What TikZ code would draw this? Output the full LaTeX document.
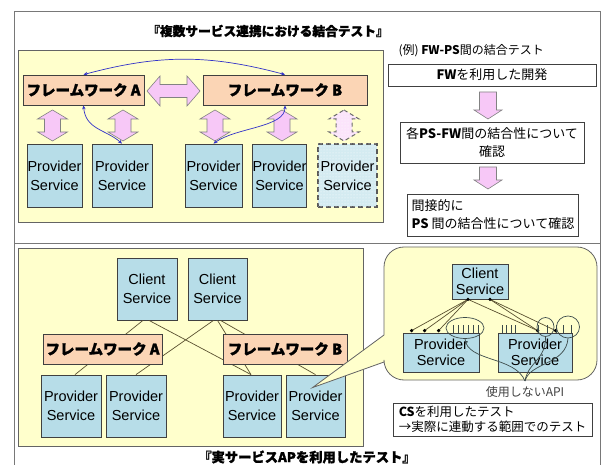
\documentclass[tikz,border=0pt]{standalone}
\usepackage{fontspec}
\setmainfont{Noto Sans CJK JP}
\newfontfamily\heavy[FakeBold=1.6]{Noto Sans CJK JP}
\newfontfamily\arial{Liberation Sans}
\usetikzlibrary{arrows.meta,calc,patterns,shapes.geometric}
\definecolor{yel}{RGB}{255,255,204}
\definecolor{fwpeach}{RGB}{251,213,181}
\definecolor{psblue}{RGB}{183,221,232}
\definecolor{pinkf}{RGB}{247,200,247}
\definecolor{arrline}{RGB}{130,130,130}
\definecolor{bluec}{RGB}{50,50,200}
\definecolor{connc}{RGB}{90,80,48}
\definecolor{boxline}{RGB}{64,64,64}
\definecolor{regline}{RGB}{100,100,100}
\definecolor{framec}{RGB}{120,120,120}
\definecolor{curvec}{RGB}{60,75,75}
\tikzset{
  ps/.style={draw=boxline, fill=psblue, line width=0.8pt, inner sep=0pt, align=center,
             font=\arial\fontsize{14.5}{19}\selectfont},
  psc/.style={ps, font=\arial\fontsize{14.5}{16}\selectfont},
  fw/.style={draw=boxline, fill=fwpeach, line width=0.8pt, inner sep=0pt,
             font=\heavy\bfseries\fontsize{14.5}{16}\selectfont},
  region/.style={draw=regline, fill=yel, line width=0.8pt},
  pinkarr/.style={draw=arrline, fill=pinkf, line width=0.6pt},
  bluearr/.style={draw=bluec, line width=0.7pt, {Stealth[length=4pt,width=3.5pt]}-{Stealth[length=4pt,width=3.5pt]}},
  wbox/.style={draw=boxline, fill=white, line width=0.8pt, inner sep=0pt,
             font=\fontsize{13}{18}\selectfont},
  conn/.style={draw=connc, line width=0.7pt},
  apiline/.style={draw=curvec, line width=0.7pt},
  titletext/.style={font=\heavy\bfseries\fontsize{12.7}{15}\selectfont},
}
\newcommand\vdarr[4][]{%
  \draw[pinkarr,#1] (#2,#3) -- ({#2+15},{#3+9}) -- ({#2+8},{#3+9}) -- ({#2+8},{#4-9})
   -- ({#2+15},{#4-9}) -- (#2,#4) -- ({#2-15},{#4-9}) -- ({#2-8},{#4-9})
   -- ({#2-8},{#3+9}) -- ({#2-15},{#3+9}) -- cycle;}
\newcommand\downarr[3]{%
  \draw[pinkarr] ({#1-8.5},#2) -- ({#1+8.5},#2) -- ({#1+8.5},{#3-9}) -- ({#1+14},{#3-9})
   -- (#1,#3) -- ({#1-14},{#3-9}) -- ({#1-8.5},{#3-9}) -- cycle;}
\begin{document}
\begin{tikzpicture}[x=1pt,y=-1pt]
\useasboundingbox (0,0) rectangle (603,465);
% frame
\draw[framec, line width=1pt] (14,466) -- (14,12) -- (600,12) -- (600,466);
\draw[framec, line width=1pt] (14,244) -- (600,244);

% ---------- top section ----------
\node[titletext] (t1) at (268,31) {『複数サービス連携における結合テスト』};
\draw[region] (18,50) rectangle (383,222);

\node[fw, minimum width=121, minimum height=30] (fwa) at (83.5,90) {フレームワーク A};
\node[fw, minimum width=164, minimum height=30] (fwb) at (285,90) {フレームワーク B};

\node[ps, minimum width=55, minimum height=63] (ps1) at (54.5,175.5) {Provider\\Service};
\node[ps, minimum width=60, minimum height=63] (ps2) at (122,175.5) {Provider\\Service};
\node[ps, minimum width=57, minimum height=63] (ps3) at (213.5,175.5) {Provider\\Service};
\node[ps, minimum width=53, minimum height=63] (ps4) at (279.5,175.5) {Provider\\Service};
\node[ps, dashed, dash pattern=on 5pt off 3pt, line width=1.3pt, draw=black!65,
      fill=psblue!60, postaction={pattern=dots, pattern color=white},
      minimum width=59, minimum height=63] (ps5) at (347.5,175.5) {Provider\\Service};

% horizontal double arrow between frameworks
\draw[pinkarr] (147,91) -- (160,76) -- (160,84.5) -- (187,84.5) -- (187,76) -- (200,91)
  -- (187,106) -- (187,97.5) -- (160,97.5) -- (160,106) -- cycle;
% vertical double arrows
\vdarr{52.5}{110}{141}
\vdarr{123}{110}{141}
\vdarr{215}{110}{141}
\vdarr{282}{110}{141}
\vdarr[dashed, dash pattern=on 4pt off 3pt, draw=black!60, line width=1pt, fill=pinkf!50, postaction={pattern=dots, pattern color=white}]{344}{110}{141}

% blue curved arrows
\draw[bluearr] (fwa.north) to[bend left=15] (fwb.north);
\draw[bluearr] (fwa.south) .. controls +(2,24) and +(-16,-14) .. (ps2.north);
\draw[bluearr] (fwb.south) .. controls +(0,22) and +(22,-16) .. (ps3.north);

% right column
\node[anchor=west, font=\fontsize{12}{14}\selectfont] (ex) at (395,51) {(例) \textbf{FW-PS}間の結合テスト};
\node[wbox, minimum width=208, minimum height=22] (b1) at (492,75) {\textbf{FW}を利用した開発};
\node[wbox, minimum width=184, minimum height=41, align=center] (b2) at (492,143) {各\textbf{PS-FW}間の結合性について\\確認};
\node[wbox, minimum width=171, minimum height=42, align=left] (b3) at (493,215) {間接的に\\\textbf{PS} 間の結合性について確認};
\downarr{488}{92}{119}
\downarr{488}{167}{189}

% ---------- bottom section ----------
\draw[region] (18,248) rectangle (363,446);

\node[ps, minimum width=60, minimum height=62] (cs1) at (147,289) {Client\\Service};
\node[ps, minimum width=59, minimum height=62] (cs2) at (217.5,289) {Client\\Service};
\node[ps, minimum width=60, minimum height=62] (pb1) at (71,406) {Provider\\Service};
\node[ps, minimum width=60, minimum height=62] (pb2) at (136,406) {Provider\\Service};
\node[ps, minimum width=58, minimum height=62] (pb3) at (252,406) {Provider\\Service};
\node[ps, minimum width=59, minimum height=62] (pb4) at (315.5,406) {Provider\\Service};

\draw[conn] ([xshift=-4pt]cs1.south) -- ([xshift=4pt]pb1.north);
\draw[conn] ([xshift=2pt]cs1.south) -- ([xshift=-1pt]pb3.north);
\draw[conn] ([xshift=-4pt]cs2.south) -- (pb2.north);
\draw[conn] (cs2.south) -- ([xshift=-1pt]pb3.north);
\draw[conn] ([xshift=3pt]cs2.south) -- (pb4.north);

\node[fw, minimum width=119, minimum height=30] (fwa2) at (102.5,349) {フレームワーク A};
\node[fw, minimum width=124, minimum height=30] (fwb2) at (285,349) {フレームワーク B};

% callout
\coordinate (tip) at ($(pb4.north)+(-3,13)$);
\draw[region, line width=0.8pt] (tip) -- (384,335) [rounded corners=20pt] -- (384,247) -- (597,247)
   -- (597,380) -- (384,380) [sharp corners] -- (384,362) -- cycle;

\node[psc, minimum width=56, minimum height=35] (cc) at (480,281.5) {Client\\Service};
\node[psc, minimum width=76, minimum height=39] (cp1) at (441,352.5) {Provider\\Service};
\node[psc, minimum width=74, minimum height=39] (cp2) at (535,352.5) {Provider\\Service};

\coordinate (d1) at ($(cc.south)+(-12,0)$);
\coordinate (d2) at ($(cc.south)+(10,0)$);
\coordinate (u1) at ($(cp1.north west)+(9,-2)$);
\coordinate (u2) at ($(cp1.north west)+(22,-2)$);
\coordinate (u3) at ($(cp1.north west)+(36,-2)$);
\coordinate (u4) at ($(cp2.north west)+(40,-2)$);
\coordinate (u5) at ($(cp2.north west)+(58,-2)$);
\draw[conn] (d1) -- (u1);
\draw[conn] (d1) -- (u2);
\draw[conn] (d1) -- (u3);
\draw[conn] (d1) -- (u4);
\draw[conn] (d2) -- (u4);
\draw[conn] (d2) -- (u5);
\foreach \p in {d1,d2,u1,u2,u3,u4,u5} \fill[black] (\p) circle (1.8pt);

% API ticks
\foreach \x in {453,458,463,468,473,478} \draw[curvec, line width=0.6pt] (\x,333) -- (\x,325);
\foreach \x in {502,506.5,511,515.5,538,547,556,563,571} \draw[curvec, line width=0.6pt] (\x,333) -- (\x,325);

\node[ellipse, draw=curvec, line width=0.7pt, minimum width=38, minimum height=21, inner sep=0pt] (e1) at (465,328) {};
\node[ellipse, draw=curvec, line width=0.7pt, minimum width=17, minimum height=19, inner sep=0pt] (e2) at (545.5,327) {};
\node[ellipse, draw=curvec, line width=0.7pt, minimum width=23, minimum height=22, inner sep=0pt] (e3) at (568,327) {};
\coordinate (api) at (525,381);
\draw[apiline] (e1.south) .. controls (467,362) and (515,356) .. (api);
\draw[apiline] (e2.south) .. controls (546,360) and (528,362) .. (api);
\draw[apiline] (e3.south) .. controls (566,365) and (530,362) .. (api);
\node[font=\fontsize{12}{14}\selectfont, text=black!75] (apilbl) at (525,392) {使用しないAPI};

\node[wbox, minimum width=199, minimum height=33, align=left, font=\fontsize{12.5}{15}\selectfont] (b4) at (492.5,419.5)
  {\textbf{CS}を利用したテスト\\→実際に連動する範囲でのテスト};

\node[titletext, font=\heavy\bfseries\fontsize{13.3}{15}\selectfont] (t2) at (307,457) {『実サービスAPを利用したテスト』};
\end{tikzpicture}
\end{document}
